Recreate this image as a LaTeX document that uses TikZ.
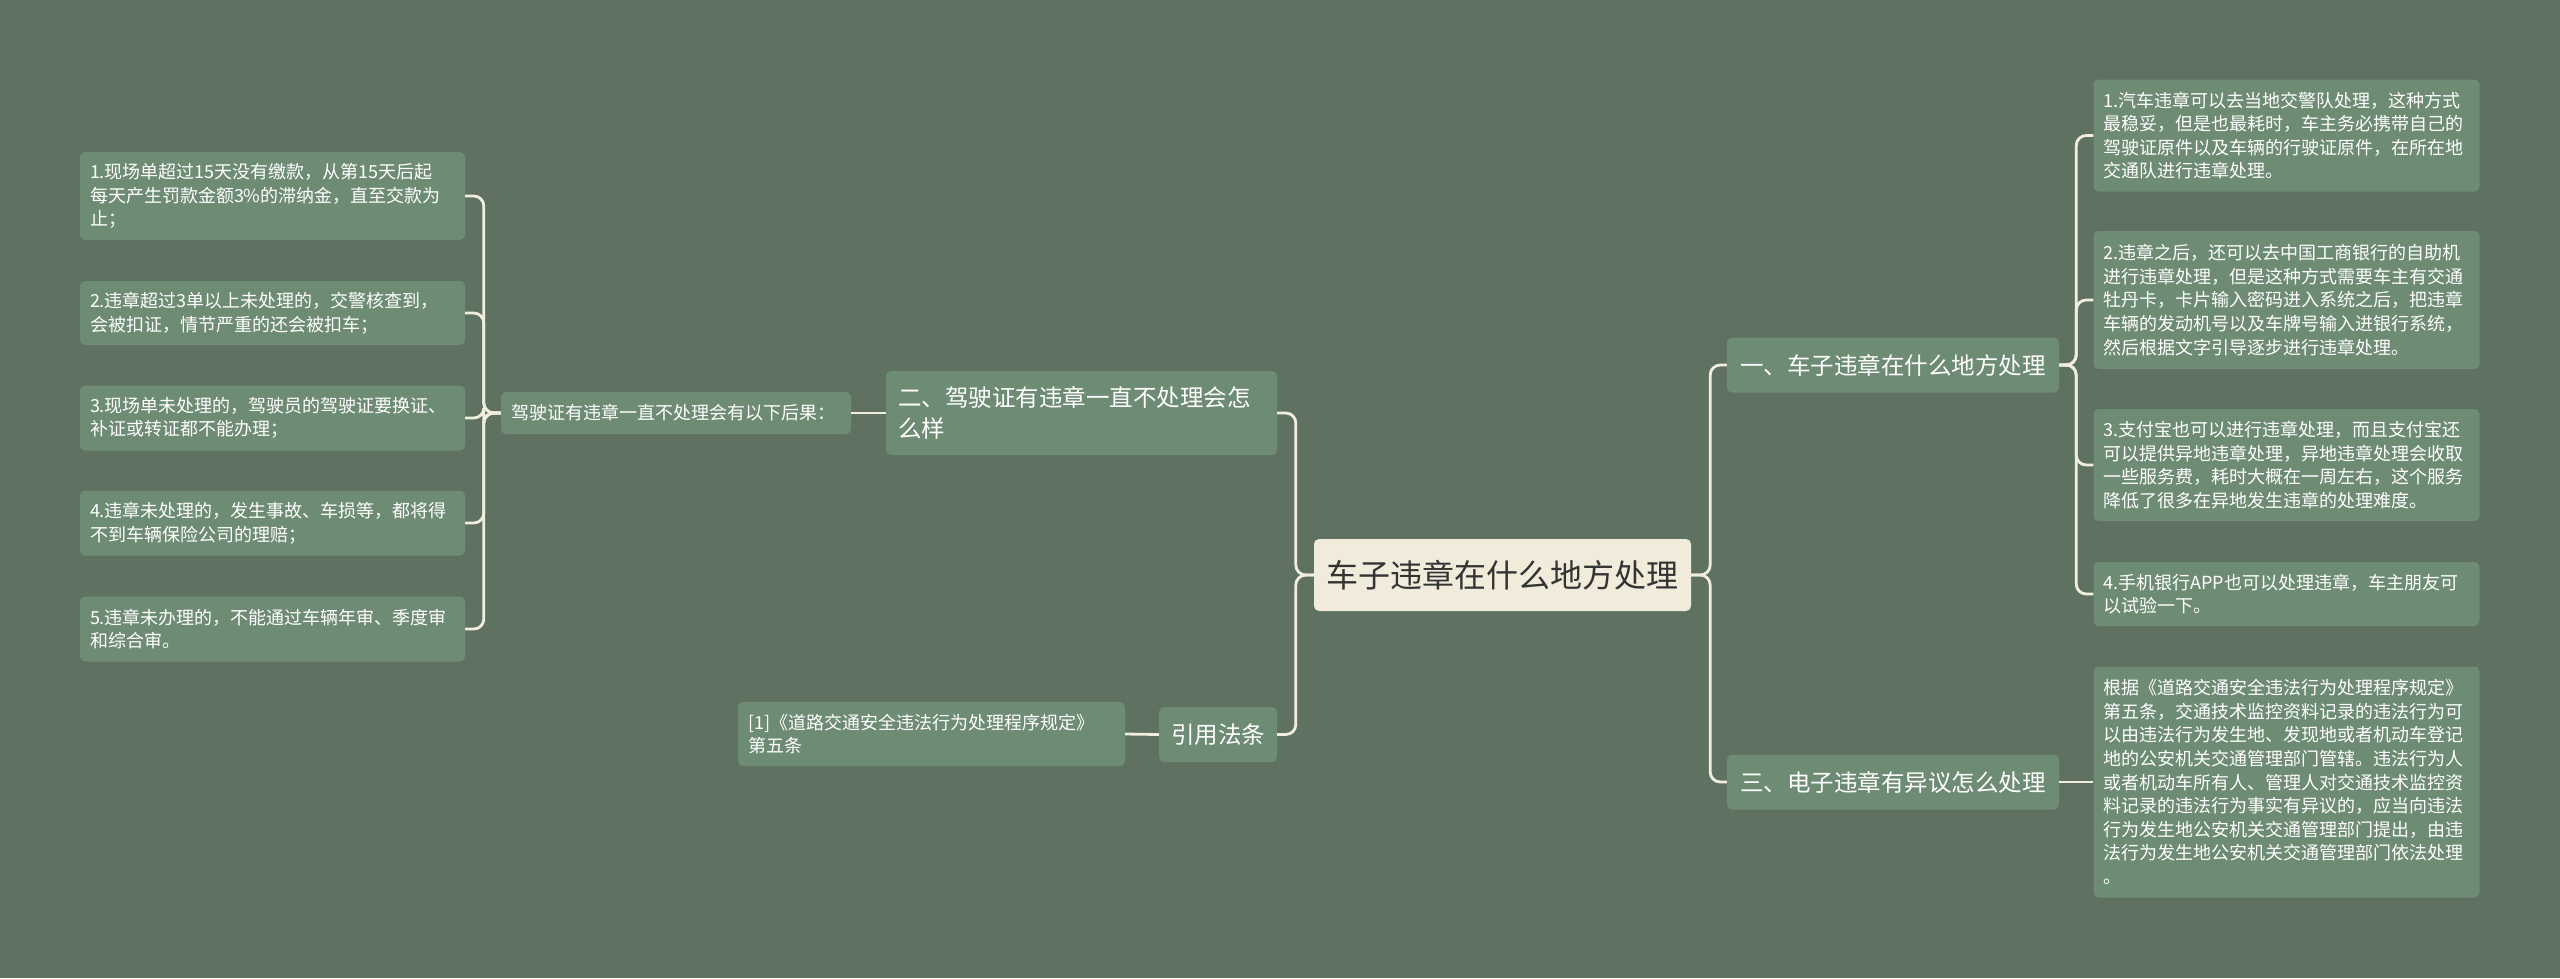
\documentclass[tikz,border=0pt]{standalone}
\usepackage{xcolor}
\usepackage{tikz}
\usetikzlibrary{positioning,calc}
\usepackage{fontspec}
\newfontfamily\cjk{Noto Sans CJK SC}
\definecolor{MapBack}{HTML}{5F7262}
\definecolor{MapLeaf}{HTML}{6E8B74}
\definecolor{MapLine}{HTML}{F2EEDD}
\definecolor{MapRoot}{HTML}{F0EBDB}
\definecolor{MapInk}{HTML}{333333}

\begin{document}
\begin{tikzpicture}[x=1pt,y=-1pt,
		root/.style={fill=MapRoot,text=MapInk,rounded corners=5pt,font=\cjk\fontsize{32}{40}\selectfont,minimum width=377pt,minimum height=72pt,inner sep=0pt},
		branch/.style={fill=MapLeaf,text=white,rounded corners=5pt,font=\cjk\fontsize{23.5}{31}\selectfont,align=left,inner xsep=12pt,inner ysep=0pt},
		leaf/.style={fill=MapLeaf,text=white,rounded corners=5pt,font=\cjk\fontsize{18}{23.6}\selectfont,align=left,text width=366pt,inner xsep=10pt,inner ysep=0pt},
		link/.style={draw=MapLine,line width=2.8pt,rounded corners=10pt}]
		\fill[MapBack] (0,0) rectangle (2560,978);
		\useasboundingbox (0,0) rectangle (2560,978);

		% centre
		\node[root] (root) at (1502.5,575) {车子违章在什么地方处理};

		% right side
		\node[branch,minimum width=332pt,minimum height=55pt] (where) at (1893,365) {一、车子违章在什么地方处理};
		\node[branch,minimum width=332pt,minimum height=55pt] (doubt) at (1893,782) {三、电子违章有异议怎么处理};
		\node[leaf,minimum height=112pt] (r1) at (2286.5,135.5) {1.汽车违章可以去当地交警队处理，这种方式\\最稳妥，但是也最耗时，车主务必携带自己的\\驾驶证原件以及车辆的行驶证原件，在所在地\\交通队进行违章处理。};
		\node[leaf,minimum height=138pt] (r2) at (2286.5,300) {2.违章之后，还可以去中国工商银行的自助机\\进行违章处理，但是这种方式需要车主有交通\\牡丹卡，卡片输入密码进入系统之后，把违章\\车辆的发动机号以及车牌号输入进银行系统，\\然后根据文字引导逐步进行违章处理。};
		\node[leaf,minimum height=112pt] (r3) at (2286.5,465) {3.支付宝也可以进行违章处理，而且支付宝还\\可以提供异地违章处理，异地违章处理会收取\\一些服务费，耗时大概在一周左右，这个服务\\降低了很多在异地发生违章的处理难度。};
		\node[leaf,minimum height=64pt] (r4) at (2286.5,594) {4.手机银行APP也可以处理违章，车主朋友可\\以试验一下。};
		\node[leaf,minimum height=231pt] (r5) at (2286.5,782) {根据《道路交通安全违法行为处理程序规定》\\第五条，交通技术监控资料记录的违法行为可\\以由违法行为发生地、发现地或者机动车登记\\地的公安机关交通管理部门管辖。违法行为人\\或者机动车所有人、管理人对交通技术监控资\\料记录的违法行为事实有异议的，应当向违法\\行为发生地公安机关交通管理部门提出，由违\\法行为发生地公安机关交通管理部门依法处理\\。};

		% left side
		\node[branch,text width=367pt,minimum height=84pt] (keep) at (1081.5,413) {二、驾驶证有违章一直不处理会怎\\么样};
		\node[branch,minimum width=118pt,minimum height=55pt] (cite) at (1218,734.5) {引用法条};
		\node[leaf,text width=330pt,inner xsep=10pt,minimum height=42pt] (result) at (676,413) {驾驶证有违章一直不处理会有以下后果：};
		\node[leaf,text width=367pt,minimum height=64pt] (law) at (931.5,734) {[1]《道路交通安全违法行为处理程序规定》\\第五条};
		\node[leaf,text width=365pt,minimum height=88pt] (l1) at (272.5,196) {1.现场单超过15天没有缴款，从第15天后起\\每天产生罚款金额3\%的滞纳金，直至交款为\\止；};
		\node[leaf,text width=365pt,minimum height=64pt] (l2) at (272.5,313) {2.违章超过3单以上未处理的，交警核查到，\\会被扣证，情节严重的还会被扣车；};
		\node[leaf,text width=365pt,minimum height=65pt] (l3) at (272.5,418) {3.现场单未处理的，驾驶员的驾驶证要换证、\\补证或转证都不能办理；};
		\node[leaf,text width=365pt,minimum height=65pt] (l4) at (272.5,523) {4.违章未处理的，发生事故、车损等，都将得\\不到车辆保险公司的理赔；};
		\node[leaf,text width=365pt,minimum height=65pt] (l5) at (272.5,629) {5.违章未办理的，不能通过车辆年审、季度审\\和综合审。};

		% connectors
		\draw[link] (root.east) -- ++(19,0) |- (where.west);
		\draw[link] (root.east) -- ++(19,0) |- (doubt.west);
		\foreach \n in {r1,r2,r3,r4}
			\draw[link] (where.east) -- ++(17,0) |- (\n.west);
		\draw[link] (doubt.east) -- (r5.west);
		\draw[link] (root.west) -- ++(-18,0) |- (keep.east);
		\draw[link] (root.west) -- ++(-18,0) |- (cite.east);
		\draw[link] (keep.west) -- (result.east);
		\draw[link] (cite.west) -- (law.east);
		\foreach \n in {l1,l2,l3,l4,l5}
			\draw[link] (result.west) -- ++(-17,0) |- (\n.east);
	\end{tikzpicture}
\end{document}
